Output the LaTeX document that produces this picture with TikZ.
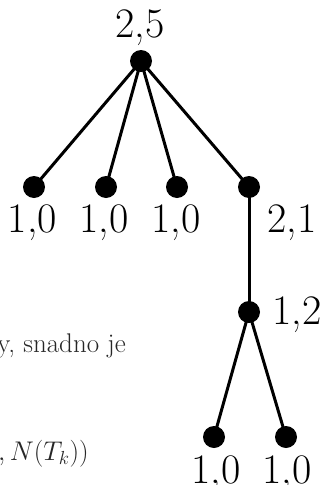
\RequirePackage{fix-cm}
\documentclass[tikz,border=0pt]{standalone}
\usepackage{fontspec}
\begin{document}
\begin{tikzpicture}[x=1pt,y=-1pt,
  dot/.style={circle,fill=black,inner sep=0pt,minimum size=22pt},
  lab/.style={anchor=base,inner sep=0pt,font=\fontsize{42}{48}\selectfont},
  txt/.style={anchor=base east,inner sep=0pt,font=\fontsize{27}{32}\selectfont,text=black!85},
  edge/.style={line width=3pt}]
\useasboundingbox (0,0) rectangle (321,485);
\begin{scope}
\clip (0,0) rectangle (321,485);
\node[dot] (r) at (141,61) {};
\node[dot] (a) at (34,187) {};
\node[dot] (b) at (106,187) {};
\node[dot] (c) at (177,187) {};
\node[dot] (d) at (249,187) {};
\node[dot] (e) at (249,312) {};
\node[dot] (f) at (214,437) {};
\node[dot] (g) at (286,437) {};
\draw[edge] (r.center) -- (a.center);
\draw[edge] (r.center) -- (b.center);
\draw[edge] (r.center) -- (c.center);
\draw[edge] (r.center) -- (d.center);
\draw[edge] (d.center) -- (e.center);
\draw[edge] (e.center) -- (f.center);
\draw[edge] (e.center) -- (g.center);
\node[lab] (lr) at (140,37) {2,5};
\node[lab] (la) at (32.5,232) {1,0};
\node[lab] (lb) at (104,232) {1,0};
\node[lab] (lc) at (176,232) {1,0};
\node[lab] (ld) at (292,232) {2,1};
\node[lab] (le) at (297,324) {1,2};
\node[lab] (lf) at (216,483) {1,0};
\node[lab] (lg) at (287,483) {1,0};
\node[txt] (t1) at (126,352) {y, snadno je};
\node[txt] (t2) at (89,460) {$, N(T_k))$};
\end{scope}
\end{tikzpicture}
\end{document}
